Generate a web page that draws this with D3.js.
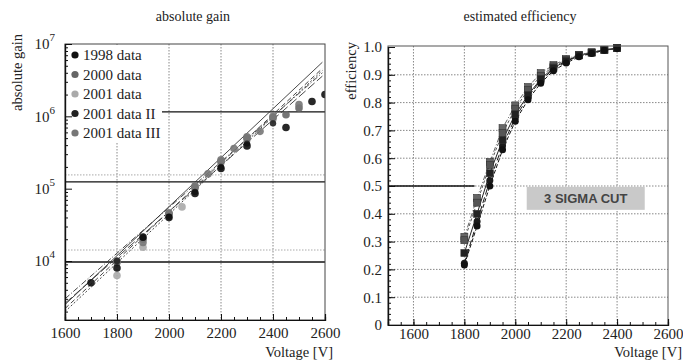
<!DOCTYPE html>
<html><head><meta charset="utf-8">
<script src="https://cdn.jsdelivr.net/npm/d3@7"></script>
<style>
body{margin:0;background:#fff}
text{font-family:"Liberation Serif","Times New Roman",serif;fill:#222}
</style>
</head><body>
<svg id="c" width="683" height="363"></svg>
<script>
// ---------- DATA ----------
const gainSeriesNames = ["1998 data","2000 data","2001 data","2001 data II","2001 data III"];
const gainSeriesColors = ["#111","#666","#aaa","#222","#777"];
const gain1998   = [[1700,5.0e3],[1800,8.0e3],[1900,2.15e4],[2000,4.0e4],[2100,8.6e4],[2200,1.9e5],[2300,3.9e5],[2450,7.0e5],[2550,1.6e6],[2600,2.0e6]];
const gain2000   = [[1800,9.6e3],[1900,2.0e4],[2000,4.6e4],[2100,1.05e5],[2200,2.4e5],[2300,5.0e5],[2400,9.6e5],[2450,1.05e6],[2500,1.3e6]];
const gain2001   = [[1800,6.3e3],[1900,1.55e4],[2000,4.4e4],[2050,5.6e4],[2100,1.0e5],[2200,2.3e5],[2300,4.8e5],[2400,9.2e5]];
const gain2001b  = [[1800,1.0e4],[1900,2.1e4],[2000,4.1e4],[2100,9.0e4],[2200,2.0e5],[2300,4.2e5],[2400,8.0e5]];
const gain2001c  = [[1800,1.0e4],[1900,1.8e4],[2000,4.5e4],[2100,1.1e5],[2150,1.6e5],[2200,2.5e5],[2250,3.6e5],[2300,5.2e5],[2350,6.2e5],[2400,1.0e6],[2500,1.45e6]];
const fitAt1600  = [2.5e3, 2.2e3, 3.0e3, 2.0e3, 2.6e3];
const fitAt2590  = [5.6e6, 4.6e6, 4.0e6, 4.3e6, 3.6e6];
const fitDash    = ["", "5,3", "6,2,1,2", "2,2", "9,3"];
const gainRefLines  = [1.15e6, 1.24e5, 9.7e3];
const gainGridLines = [1.55e5, 1.42e4];
const gainYTicks = [1e4,1e5,1e6,1e7];
const voltTicks  = [1600,1800,2000,2200,2400,2600];

const effV = [1800,1850,1900,1950,2000,2050,2100,2150,2200,2250,2300,2350,2400];
const eff1 = [0.216,0.356,0.500,0.630,0.733,0.810,0.870,0.915,0.942,0.965,0.977,0.988,0.995];
const eff2 = [0.259,0.400,0.546,0.665,0.758,0.827,0.885,0.925,0.950,0.970,0.980,0.990,0.996];
const eff3 = [0.317,0.457,0.586,0.708,0.790,0.856,0.906,0.935,0.957,0.972,0.981,0.990,0.997];
const eff4 = [0.305,0.440,0.575,0.690,0.778,0.845,0.895,0.930,0.954,0.970,0.980,0.990,0.996];
const eff5 = [0.222,0.372,0.520,0.645,0.745,0.820,0.880,0.920,0.948,0.968,0.978,0.988,0.995];
const effColors = ["#111","#222","#666","#555","#1a1a1a"];
const effShapes = ["circle","square","square","square","circle"];
const effDash   = ["4,2","", "5,2,1,2","3,2","6,3"];
const effYTicks = [0,0.1,0.2,0.3,0.4,0.5,0.6,0.7,0.8,0.9,1.0];
const sigmaCutLevel = 0.5, sigmaCutEndV = 1840;
const sigmaLabel = "3 SIGMA CUT";

// ---------- DRAW ----------
const svg = d3.select("#c");
const SERIF = "'Liberation Serif','Times New Roman',serif";

// ===== Left panel =====
const xG = d3.scaleLinear([1600,2600],[65,325]);
const yG = d3.scaleLog([1530,1e7],[320,44]);
const L = svg.append("g");
svg.append("clipPath").attr("id","clipL").append("rect")
  .attr("x",65).attr("y",44).attr("width",260).attr("height",276);

L.selectAll(".vg").data([1800,2000,2200,2400]).join("line")
  .attr("x1",d=>xG(d)).attr("x2",d=>xG(d)).attr("y1",44).attr("y2",320)
  .attr("stroke","#888").attr("stroke-dasharray","1.5,1.5");
L.selectAll(".hg").data(gainGridLines).join("line")
  .attr("x1",65).attr("x2",325).attr("y1",d=>yG(d)).attr("y2",d=>yG(d))
  .attr("stroke","#aaa").attr("stroke-dasharray","1.5,1.5");
L.selectAll(".rl").data(gainRefLines).join("line")
  .attr("x1",65).attr("x2",325).attr("y1",d=>yG(d)).attr("y2",d=>yG(d))
  .attr("stroke","#111").attr("stroke-width",1.3);

const fg = L.append("g").attr("clip-path","url(#clipL)");
fitAt1600.forEach((a,i)=>{
  fg.append("line").attr("x1",xG(1600)).attr("y1",yG(a)).attr("x2",xG(2590)).attr("y2",yG(fitAt2590[i]))
    .attr("stroke","#333").attr("stroke-width",0.9).attr("stroke-dasharray",fitDash[i]);
});

const gainSets = [gain1998,gain2000,gain2001,gain2001b,gain2001c];
[2,1,4,3,0].forEach(i=>{
  fg.selectAll(null).data(gainSets[i]).join("circle")
    .attr("cx",d=>xG(d[0])).attr("cy",d=>yG(d[1])).attr("r",i===3?3.2:3.8)
    .attr("fill",gainSeriesColors[i]).attr("opacity",0.9);
});

L.append("rect").attr("x",66).attr("y",45).attr("width",96).attr("height",98).attr("fill","#fff");
gainSeriesNames.forEach((n,i)=>{
  const y = 55 + i*19.5;
  L.append("circle").attr("cx",75).attr("cy",y).attr("r",3.6).attr("fill",gainSeriesColors[i]);
  L.append("text").attr("x",83).attr("y",y+5).attr("font-size",15).text(n);
});

L.append("rect").attr("x",65).attr("y",44).attr("width",260).attr("height",276)
  .attr("fill","none").attr("stroke","#444").attr("stroke-width",1);

L.append("g").attr("transform","translate(0,320)")
  .call(d3.axisBottom(xG).tickValues(d3.range(1600,2601,50)).tickSize(-3).tickFormat(""));
L.append("g").attr("transform","translate(0,320)")
  .call(d3.axisBottom(xG).tickValues(voltTicks).tickSize(-6).tickPadding(7).tickFormat(d3.format("d")));
const minorLog = [];
[1e3,1e4,1e5,1e6].forEach(b=>{for(let k=2;k<=9;k++){const v=b*k; if(v>=1530&&v<=1e7) minorLog.push(v);}});
L.append("g").attr("transform","translate(65,0)")
  .call(d3.axisLeft(yG).tickValues(minorLog).tickSize(-3).tickFormat(""));
const gy = L.append("g").attr("transform","translate(65,0)")
  .call(d3.axisLeft(yG).tickValues(gainYTicks).tickSize(-7).tickPadding(10).tickFormat(()=>""));
gy.selectAll(".tick text").each(function(d){
  const t = d3.select(this);
  t.text("10");
  t.append("tspan").attr("dy",-8).attr("font-size",11).text(Math.round(Math.log10(d)));
});

// ===== Right panel =====
const xE = d3.scaleLinear([1500,2600],[388,668]);
const yE = d3.scaleLinear([0,1],[325,47]);
const R = svg.append("g");
R.selectAll(".vg").data([1600,1800,2000,2200,2400]).join("line")
  .attr("x1",d=>xE(d)).attr("x2",d=>xE(d)).attr("y1",46).attr("y2",325)
  .attr("stroke","#888").attr("stroke-dasharray","1.5,1.5");
R.selectAll(".hg").data(effYTicks.filter(d=>d>0&&d<1)).join("line")
  .attr("x1",388).attr("x2",668).attr("y1",d=>yE(d)).attr("y2",d=>yE(d))
  .attr("stroke","#888").attr("stroke-dasharray","1.5,1.5");
R.append("line").attr("x1",xE(1500)).attr("x2",xE(sigmaCutEndV))
  .attr("y1",yE(sigmaCutLevel)).attr("y2",yE(sigmaCutLevel)).attr("stroke","#111").attr("stroke-width",1.3);

R.append("rect").attr("x",xE(2045)).attr("y",yE(0.497)).attr("width",118).attr("height",23).attr("fill","#c9c9c9");
R.append("text").attr("x",xE(2045)+59).attr("y",yE(0.497)+16).attr("text-anchor","middle")
  .style("font-family","'Liberation Sans',Arial,sans-serif").style("font-weight","bold").style("fill","#444")
  .attr("font-size",13).text(sigmaLabel);

const effSets = [eff1,eff2,eff3,eff4,eff5];
const line = d3.line().x((d,i)=>xE(effV[i])).y(d=>yE(d));
effSets.forEach((s,i)=>{
  R.append("path").attr("d",line(s)).attr("fill","none").attr("stroke",effColors[i])
    .attr("stroke-width",1).attr("stroke-dasharray",effDash[i]);
});
[2,3,4,1,0].forEach(i=>{
  const s = effSets[i];
  if(effShapes[i]==="circle"){
    R.selectAll(null).data(s).join("circle").attr("cx",(d,j)=>xE(effV[j])).attr("cy",d=>yE(d)).attr("r",3.5).attr("fill",effColors[i]);
  } else {
    R.selectAll(null).data(s).join("rect").attr("x",(d,j)=>xE(effV[j])-3.5).attr("y",d=>yE(d)-3.5)
      .attr("width",7).attr("height",7).attr("fill",effColors[i]).attr("stroke","#333").attr("stroke-width",0.6);
  }
});

R.append("rect").attr("x",388).attr("y",46).attr("width",280).attr("height",279)
  .attr("fill","none").attr("stroke","#555").attr("stroke-width",1);
R.append("g").attr("transform","translate(0,325)")
  .call(d3.axisBottom(xE).tickValues(d3.range(1500,2601,50)).tickSize(-3).tickFormat(""));
R.append("g").attr("transform","translate(0,325)")
  .call(d3.axisBottom(xE).tickValues(voltTicks).tickSize(-6).tickPadding(3).tickFormat(d3.format("d")));
R.append("g").attr("transform","translate(388,0)")
  .call(d3.axisLeft(yE).tickValues(d3.range(0,1.001,0.02)).tickSize(-3).tickFormat(""));
R.append("g").attr("transform","translate(388,0)")
  .call(d3.axisLeft(yE).tickValues(effYTicks).tickSize(-7).tickPadding(6)
  .tickFormat(d=>d===0?"0":d3.format(".1f")(d)));

// axis styling
svg.selectAll("g").filter(function(){return this.hasAttribute("font-family");}).attr("font-family",SERIF);
svg.selectAll(".domain").attr("stroke","#111").attr("stroke-width",1.2);
svg.selectAll(".tick line").attr("stroke","#111");
svg.selectAll(".tick text").attr("font-size",15).style("font-family",SERIF).attr("fill","#222");

// titles
svg.append("text").attr("x",193).attr("y",21).attr("text-anchor","middle").attr("font-size",14).text("absolute gain");
svg.append("text").attr("x",520).attr("y",21).attr("text-anchor","middle").attr("font-size",14).text("estimated efficiency");
svg.append("text").attr("x",333).attr("y",357).attr("text-anchor","end").attr("font-size",14.5).text("Voltage [V]");
svg.append("text").attr("x",682).attr("y",357).attr("text-anchor","end").attr("font-size",14.5).text("Voltage [V]");
svg.append("text").attr("transform","translate(22,34) rotate(-90)").attr("text-anchor","end").attr("font-size",14.5).text("absolute gain");
svg.append("text").attr("transform","translate(356,42) rotate(-90)").attr("text-anchor","end").attr("font-size",14.5).text("efficiency");
</script>
</body></html>
